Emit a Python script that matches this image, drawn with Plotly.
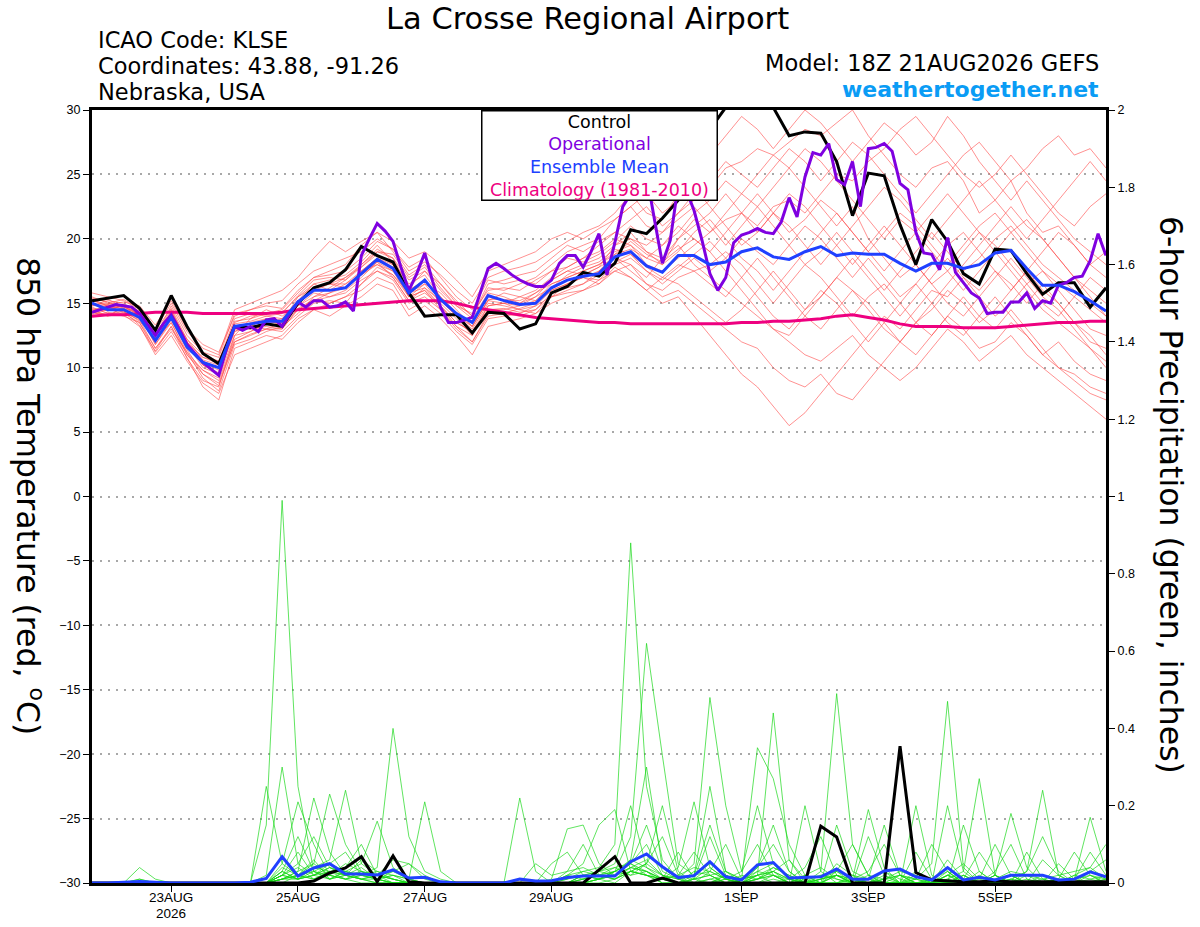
"""
GEFS plume for La Crosse Regional Airport: 850 hPa temperature
ensemble (red) with 6-hour precipitation (green) on a second axis.
"""

import pandas as pd
import plotly.graph_objects as go

START = "2026-08-21 18:00"

# control run, 6-hourly (deg C)
control_temp = [
    15.2, 15.4, 15.6, 14.6, 12.9, 15.6, 13.2, 11.1, 10.3, 13.2, 13.1, 13.4, 13.2,
    15.0, 16.2, 16.6, 17.6, 19.4, 18.7, 18.2, 15.8, 14.0, 14.1, 14.1, 12.7, 14.3,
    14.2, 13.0, 13.4, 15.8, 16.3, 17.4, 17.1, 18.1, 20.7, 20.4, 21.6, 23.0, 26.0,
    28.5, 30.2, 31.0, 31.0, 30.2, 28.0, 28.3, 28.2, 26.0, 21.8, 25.1, 24.9, 21.1,
    18.0, 21.5, 19.8, 17.3, 16.5, 19.2, 19.1, 17.3, 15.7, 16.6, 16.6, 14.7, 16.2,
]

# operational run, 3-hourly (deg C)
operational_temp = [
    14.3, 14.5, 14.7, 14.9, 14.8, 14.7, 14.2, 13.3, 12.5, 13.4, 14.1, 13.0, 11.8,
    11.1, 10.4, 9.9, 9.4, 11.5, 13.2, 12.9, 13.2, 12.8, 13.7, 13.8, 13.2, 14.2,
    15.1, 14.7, 15.2, 15.2, 14.7, 14.8, 15.1, 14.4, 18.7, 20.0, 21.2, 20.6, 19.8,
    17.8, 16.0, 17.3, 18.9, 16.7, 14.7, 13.5, 13.5, 13.7, 13.9, 15.8, 17.7, 18.1,
    17.7, 17.2, 16.8, 16.5, 16.3, 16.3, 16.8, 18.1, 18.7, 18.7, 17.8, 19.0, 20.4,
    17.2, 19.7, 22.5, 23.5, 24.0, 25.0, 21.5, 18.1, 19.9, 24.2, 23.8, 22.2, 19.9,
    17.3, 16.0, 17.0, 19.7, 20.3, 20.5, 20.8, 20.5, 20.4, 21.3, 23.2, 21.7, 24.8,
    26.7, 26.5, 27.4, 24.6, 24.2, 26.0, 22.5, 27.0, 27.1, 27.4, 26.8, 24.3, 23.8,
    20.5, 18.9, 18.8, 17.6, 20.1, 17.4, 16.6, 15.8, 15.4, 14.2, 14.3, 14.3, 15.1,
    15.1, 15.8, 14.6, 15.2, 15.0, 16.4, 16.6, 17.0, 17.1, 18.3, 20.4, 18.7,
]

mean_temp = [
    15.0, 14.5, 14.5, 13.9, 12.1, 13.9, 11.6, 10.4, 10.0, 13.2, 13.4, 13.6, 13.6,
    15.1, 16.0, 16.0, 16.2, 17.3, 18.4, 17.7, 15.8, 16.8, 15.3, 14.2, 13.5, 15.6,
    15.2, 14.9, 15.0, 16.2, 16.8, 17.1, 17.3, 18.6, 19.0, 17.9, 17.4, 18.7, 18.7,
    18.0, 18.2, 19.0, 19.3, 18.6, 18.4, 19.0, 19.4, 18.7, 18.9, 18.8, 18.8, 18.1,
    17.5, 18.1, 18.1, 17.7, 18.0, 18.9, 19.1, 17.7, 16.4, 16.4, 15.9, 15.2, 14.4,
]

climo_temp = [
    14.0, 14.1, 14.1, 14.2, 14.3, 14.3, 14.3, 14.2, 14.2, 14.2, 14.2, 14.2, 14.3,
    14.5, 14.6, 14.7, 14.8, 14.9, 15.0, 15.1, 15.2, 15.2, 15.2, 15.0, 14.7, 14.5,
    14.3, 14.1, 13.9, 13.8, 13.7, 13.6, 13.5, 13.5, 13.4, 13.4, 13.4, 13.4, 13.4,
    13.4, 13.4, 13.5, 13.5, 13.6, 13.6, 13.7, 13.8, 14.0, 14.1, 13.9, 13.7, 13.4,
    13.2, 13.2, 13.2, 13.1, 13.1, 13.1, 13.2, 13.3, 13.4, 13.5, 13.5, 13.6, 13.6,
]

# ensemble members, 6-hourly (deg C)
temp_members = [
    [14.8, 15.2, 15.0, 14.2, 12.5, 14.5, 12.0, 10.8, 10.5, 13.5, 14.0, 14.2, 14.5,
     15.8, 17.0, 17.5, 18.0, 19.5, 20.5, 19.0, 17.2, 18.0, 16.5, 15.0, 14.0, 16.2,
     16.0, 16.5, 17.0, 18.0, 19.0, 19.5, 20.0, 21.5, 22.5, 21.0, 20.5, 22.0, 23.5,
     24.0, 25.5, 26.0, 27.0, 26.5, 27.5, 28.5, 28.0, 29.0, 30.0, 28.0, 26.5, 25.0,
     24.0, 25.5, 26.0, 24.5, 22.0, 23.0, 24.5, 22.0, 20.5, 21.0, 19.5, 18.0, 17.0],
    [14.5, 14.0, 14.2, 13.5, 11.5, 13.2, 11.0, 9.5, 8.8, 12.0, 12.5, 13.0, 12.8,
     14.0, 15.0, 15.2, 15.0, 16.5, 17.5, 16.8, 15.0, 15.5, 14.5, 13.0, 12.0, 14.0,
     14.2, 14.0, 14.5, 15.5, 15.8, 16.0, 16.5, 17.5, 17.0, 16.0, 15.0, 15.5, 14.0,
     12.5, 11.0, 9.5, 8.5, 7.0, 5.5, 6.5, 8.0, 9.5, 11.0, 12.5, 14.0, 13.0,
     14.5, 16.0, 15.5, 17.0, 16.0, 17.5, 16.5, 15.0, 16.5, 15.0, 13.5, 12.0, 11.5],
    [15.3, 14.8, 14.6, 14.2, 12.0, 14.0, 11.8, 10.2, 9.5, 13.0, 13.2, 13.8, 13.5,
     15.5, 16.5, 16.0, 16.8, 18.0, 19.2, 18.5, 16.2, 17.5, 16.0, 14.8, 13.8, 15.8,
     15.5, 15.0, 15.8, 16.8, 17.5, 18.0, 18.5, 19.5, 20.5, 19.0, 18.0, 20.0, 21.5,
     20.5, 22.0, 23.5, 22.5, 24.0, 25.5, 24.0, 22.5, 21.0, 22.5, 20.0, 18.5, 17.0,
     18.0, 16.5, 15.0, 14.0, 15.5, 17.0, 18.5, 17.0, 15.5, 14.5, 13.0, 11.5, 10.5],
    [14.2, 14.6, 14.8, 13.8, 12.2, 13.5, 11.2, 9.8, 9.2, 12.5, 13.8, 14.5, 14.0,
     14.8, 15.5, 16.2, 17.0, 17.8, 18.8, 18.0, 15.5, 16.0, 14.8, 13.5, 12.8, 14.8,
     15.0, 15.5, 16.0, 17.0, 17.8, 18.5, 19.0, 20.0, 19.5, 18.5, 19.5, 21.0, 20.0,
     19.0, 17.5, 16.0, 14.5, 13.0, 12.5, 14.0, 15.5, 17.0, 16.0, 14.5, 13.0, 12.0,
     13.5, 15.0, 16.5, 18.0, 19.5, 21.0, 22.5, 21.0, 20.0, 18.5, 17.0, 15.5, 14.0],
    [15.5, 15.0, 14.8, 14.0, 12.8, 14.2, 12.2, 11.0, 10.5, 13.8, 14.2, 14.0, 13.8,
     15.0, 16.2, 16.5, 16.5, 17.5, 18.0, 17.2, 15.8, 16.5, 15.8, 14.5, 13.2, 15.2,
     15.8, 15.5, 15.2, 16.5, 17.0, 17.5, 18.0, 19.0, 19.5, 18.0, 17.5, 18.5, 19.5,
     20.5, 21.5, 22.0, 21.0, 22.5, 23.0, 22.0, 23.5, 25.0, 24.5, 26.0, 27.0, 28.5,
     29.5, 28.0, 26.5, 25.0, 24.0, 25.0, 26.5, 25.0, 23.5, 22.0, 21.0, 22.5, 23.5],
    [14.0, 14.3, 14.0, 13.5, 11.2, 12.8, 10.8, 8.5, 7.5, 11.5, 12.0, 12.5, 12.2,
     13.5, 14.5, 14.0, 14.8, 15.5, 16.5, 16.0, 14.0, 14.8, 13.8, 12.5, 11.0, 13.2,
     13.5, 13.8, 14.2, 15.0, 15.5, 16.0, 16.8, 17.5, 18.0, 16.5, 15.5, 16.0, 15.0,
     14.0, 13.0, 12.0, 11.5, 10.0, 9.0, 8.5, 9.5, 8.0, 7.5, 9.0, 10.5, 12.0,
     13.5, 12.5, 14.0, 15.5, 14.0, 13.0, 14.5, 13.0, 11.5, 10.0, 9.0, 8.0, 7.5],
    [15.0, 14.7, 14.4, 13.6, 12.4, 14.8, 12.5, 11.2, 10.8, 14.2, 14.5, 14.8, 14.6,
     16.0, 17.0, 17.2, 17.5, 18.5, 19.8, 19.2, 17.8, 18.5, 17.0, 15.5, 14.5, 16.8,
     16.5, 16.8, 16.5, 17.5, 18.5, 18.2, 18.8, 19.8, 21.0, 20.0, 19.5, 20.5, 22.0,
     23.0, 24.5, 23.5, 25.0, 26.5, 25.5, 27.0, 26.0, 24.5, 23.0, 21.5, 20.0, 21.5,
     20.5, 22.0, 23.5, 22.0, 20.5, 19.0, 20.5, 21.5, 20.0, 18.5, 17.0, 16.0, 15.0],
    [14.6, 14.4, 14.9, 14.4, 12.6, 13.8, 11.5, 10.5, 10.0, 13.0, 13.0, 13.2, 13.0,
     14.5, 15.2, 15.5, 15.8, 16.8, 17.5, 17.0, 15.2, 16.2, 15.2, 14.0, 13.0, 15.0,
     14.8, 14.5, 14.8, 16.0, 16.5, 17.0, 16.8, 18.0, 18.5, 17.5, 16.5, 17.5, 18.5,
     17.5, 18.5, 20.0, 19.0, 18.0, 19.5, 21.0, 20.0, 18.5, 17.0, 18.5, 17.0, 15.5,
     16.5, 18.0, 19.5, 20.5, 19.0, 17.5, 16.0, 17.5, 19.0, 20.5, 19.5, 18.0, 19.0],
    [14.4, 14.9, 14.5, 14.0, 11.8, 13.5, 11.0, 9.8, 9.0, 12.2, 12.8, 13.5, 13.8,
     15.2, 16.5, 16.8, 17.2, 18.2, 19.5, 18.2, 16.5, 17.2, 15.5, 14.2, 13.5, 15.5,
     15.2, 15.0, 15.5, 16.2, 17.2, 17.8, 18.2, 19.2, 18.8, 17.8, 17.0, 18.0, 17.5,
     16.5, 15.5, 17.0, 18.5, 17.0, 15.5, 14.0, 13.0, 14.5, 16.0, 15.0, 13.5, 12.0,
     11.0, 12.5, 14.0, 13.0, 11.5, 12.0, 13.5, 12.5, 11.0, 10.0, 9.5, 8.5, 8.0],
    [15.8, 15.5, 15.2, 14.5, 13.0, 15.0, 12.8, 11.5, 11.0, 14.5, 15.0, 15.5, 16.0,
     17.0, 18.5, 19.8, 19.0, 19.8, 20.5, 19.8, 18.5, 19.0, 18.0, 16.8, 15.5, 17.5,
     18.0, 18.5, 19.0, 20.0, 20.5, 20.0, 20.8, 21.5, 22.5, 23.5, 22.0, 23.0, 24.0,
     22.5, 21.0, 19.5, 20.5, 22.0, 21.0, 19.5, 18.0, 19.5, 21.0, 22.5, 24.0, 23.0,
     21.5, 20.0, 21.5, 23.0, 24.5, 23.0, 21.5, 20.0, 21.5, 23.0, 24.5, 26.0, 24.5],
    [14.3, 14.1, 14.3, 13.7, 11.5, 13.0, 11.2, 9.2, 8.2, 11.8, 12.2, 12.8, 13.2,
     14.2, 15.5, 15.8, 16.5, 17.2, 18.0, 17.5, 15.5, 16.5, 15.0, 13.8, 12.5, 14.5,
     14.5, 14.8, 15.2, 16.2, 16.8, 17.0, 17.5, 18.8, 19.2, 18.5, 18.0, 19.0, 20.5,
     21.5, 20.0, 18.5, 17.5, 16.0, 17.5, 19.0, 20.5, 22.0, 20.5, 19.0, 17.5, 19.0,
     20.5, 19.0, 17.5, 16.0, 17.5, 19.0, 17.5, 16.0, 14.5, 13.5, 12.5, 11.5, 10.0],
    [15.1, 15.3, 14.7, 14.3, 12.9, 14.6, 12.2, 10.6, 10.2, 13.6, 13.8, 14.2, 14.3,
     15.5, 16.2, 16.5, 17.0, 18.0, 19.0, 18.8, 17.0, 17.8, 16.2, 14.8, 14.2, 16.0,
     16.2, 16.0, 16.8, 17.5, 17.8, 18.5, 19.5, 20.5, 21.5, 22.5, 21.0, 22.0, 23.0,
     24.5, 26.0, 25.0, 24.0, 25.5, 27.0, 26.0, 24.5, 26.0, 27.5, 26.5, 25.0, 23.5,
     22.0, 23.5, 25.0, 26.5, 27.5, 26.0, 24.5, 25.5, 27.0, 28.0, 26.5, 27.0, 25.5],
    [14.7, 14.2, 14.4, 13.3, 11.0, 12.5, 10.5, 8.8, 8.0, 11.0, 11.5, 12.0, 12.5,
     13.8, 14.5, 15.0, 15.5, 16.0, 17.0, 16.5, 14.5, 15.2, 14.2, 12.8, 11.8, 13.8,
     14.0, 14.2, 14.8, 15.5, 16.0, 16.5, 17.5, 18.5, 18.0, 17.0, 18.5, 19.5, 18.0,
     17.0, 16.0, 15.0, 14.0, 13.0, 12.0, 11.0, 10.5, 11.5, 12.5, 11.0, 10.0, 9.0,
     10.0, 11.5, 13.0, 12.0, 10.5, 11.5, 12.5, 11.0, 10.0, 9.0, 8.0, 7.0, 6.0],
    [14.9, 15.0, 15.3, 14.6, 12.3, 14.3, 12.0, 10.4, 9.8, 13.4, 13.6, 14.0, 14.2,
     15.6, 16.8, 17.0, 16.8, 17.8, 19.0, 18.5, 16.8, 17.5, 16.5, 15.2, 14.0, 16.5,
     16.8, 17.2, 17.5, 18.5, 19.5, 19.0, 19.8, 20.5, 20.0, 19.5, 20.5, 21.5, 22.5,
     21.0, 19.5, 21.0, 22.5, 21.0, 19.5, 18.0, 19.0, 20.5, 19.0, 17.5, 16.0, 17.5,
     19.0, 20.5, 19.0, 17.5, 18.5, 20.0, 21.0, 19.5, 18.0, 17.0, 16.0, 15.0, 14.0],
    [14.1, 14.5, 14.9, 14.1, 12.7, 14.0, 11.8, 10.0, 9.5, 12.8, 13.2, 13.0, 13.0,
     14.6, 15.3, 15.0, 15.5, 16.5, 17.8, 17.2, 15.5, 16.0, 14.5, 13.2, 12.5, 14.8,
     15.0, 14.5, 14.2, 15.5, 16.5, 17.0, 16.5, 17.8, 17.0, 16.0, 17.0, 16.5, 15.5,
     14.5, 13.5, 14.5, 16.0, 17.5, 16.0, 14.5, 15.5, 17.0, 18.5, 17.0, 15.5, 14.0,
     15.5, 17.0, 18.5, 17.0, 15.5, 14.0, 15.0, 16.5, 17.5, 16.0, 14.5, 13.0, 12.5],
    [15.4, 15.1, 14.6, 13.9, 12.0, 14.4, 11.9, 10.8, 10.3, 13.2, 13.4, 13.6, 13.4,
     15.0, 16.0, 16.0, 16.2, 17.2, 18.2, 17.5, 16.0, 16.8, 15.3, 14.0, 13.2, 15.3,
     15.3, 15.2, 15.8, 16.5, 17.0, 17.5, 18.0, 18.8, 19.8, 18.8, 18.2, 19.2, 20.0,
     19.0, 20.5, 22.0, 23.5, 22.0, 20.5, 21.5, 23.0, 22.0, 20.5, 19.0, 20.5, 22.0,
     21.0, 19.5, 18.0, 19.5, 21.0, 22.0, 20.5, 19.0, 17.5, 16.5, 15.5, 14.5, 13.5],
    [14.5, 14.6, 14.1, 13.2, 11.3, 13.2, 10.7, 9.0, 8.5, 12.5, 12.8, 13.4, 13.6,
     14.8, 15.8, 15.5, 16.0, 17.0, 18.2, 17.0, 15.2, 15.8, 14.8, 13.5, 12.8, 14.5,
     14.6, 14.3, 14.5, 15.8, 16.2, 16.5, 17.2, 18.2, 18.8, 17.5, 16.8, 17.8, 18.8,
     19.8, 18.5, 17.0, 15.5, 14.0, 13.0, 14.5, 16.0, 15.0, 13.5, 12.0, 13.5, 15.0,
     16.5, 15.0, 13.5, 12.5, 14.0, 15.5, 14.0, 12.5, 11.0, 12.0, 10.5, 9.5, 9.0],
    [15.2, 14.8, 14.3, 13.8, 12.5, 14.2, 12.0, 10.2, 9.6, 12.8, 13.5, 13.8, 13.2,
     15.2, 16.0, 16.5, 16.2, 17.5, 18.5, 17.8, 16.0, 16.8, 15.5, 14.2, 13.2, 15.2,
     15.0, 14.8, 15.5, 16.8, 17.5, 17.2, 17.8, 19.5, 20.0, 19.0, 18.5, 20.0, 21.0,
     22.0, 23.5, 22.0, 20.5, 22.0, 23.5, 22.5, 21.0, 19.5, 18.0, 19.5, 21.0, 19.5,
     18.0, 16.5, 17.5, 19.0, 20.5, 19.5, 18.0, 16.5, 15.0, 14.0, 15.5, 17.0, 16.0],
    [14.3, 14.0, 14.7, 14.2, 11.8, 13.7, 11.4, 9.5, 8.6, 12.0, 12.6, 13.0, 13.5,
     14.5, 15.2, 15.8, 16.2, 17.5, 18.5, 18.0, 15.8, 16.2, 14.8, 13.2, 12.0, 14.2,
     14.2, 14.6, 15.0, 16.0, 16.5, 17.2, 17.8, 18.5, 17.5, 16.5, 16.0, 17.0, 17.5,
     18.0, 19.0, 18.0, 16.5, 15.0, 16.5, 18.0, 17.0, 15.5, 14.0, 15.5, 16.5, 15.0,
     13.5, 14.5, 16.0, 15.0, 13.5, 14.5, 16.0, 17.5, 16.0, 15.0, 13.5, 12.5, 11.0],
    [14.8, 14.9, 15.1, 14.8, 13.3, 15.2, 13.0, 11.8, 11.2, 14.0, 14.5, 15.0, 15.2,
     16.5, 17.5, 18.0, 18.5, 19.0, 20.0, 19.2, 17.5, 18.2, 17.2, 16.0, 15.0, 17.0,
     17.5, 17.8, 18.2, 19.0, 19.8, 20.5, 21.0, 22.0, 23.5, 22.0, 21.5, 23.5, 25.0,
     26.5, 28.0, 29.5, 28.5, 27.0, 28.5, 30.0, 29.0, 27.5, 26.0, 27.5, 29.0, 28.0,
     26.5, 27.5, 29.5, 28.0, 26.0, 24.5, 23.0, 24.5, 23.0, 21.5, 20.0, 19.0, 18.0],
]

# 6-hour precipitation (inches)
control_precip = [
    0, 0, 0, 0, 0, 0, 0, 0, 0, 0, 0, 0, 0,
    0, 0.005, 0.026, 0.039, 0.068, 0.003, 0.070, 0.003, 0, 0, 0, 0, 0,
    0, 0, 0, 0, 0, 0, 0.034, 0.068, 0, 0, 0.013, 0, 0,
    0, 0, 0, 0, 0, 0, 0, 0.147, 0.119, 0, 0, 0, 0.354,
    0.027, 0.008, 0.005, 0.003, 0.003, 0.005, 0.003, 0.003, 0.003, 0.003, 0.003, 0.003, 0.003,
]

mean_precip = [
    0, 0, 0.002, 0.004, 0.002, 0, 0, 0, 0, 0, 0.002, 0.012, 0.068,
    0.018, 0.039, 0.050, 0.023, 0.023, 0.021, 0.034, 0.013, 0.015, 0.003, 0, 0, 0,
    0, 0.010, 0.005, 0.006, 0.014, 0.018, 0.018, 0.018, 0.055, 0.075, 0.042, 0.014, 0.019,
    0.055, 0.016, 0.008, 0.047, 0.053, 0.013, 0.015, 0.016, 0.036, 0.010, 0.010, 0.031, 0.036,
    0.016, 0.008, 0.040, 0.008, 0.015, 0.008, 0.020, 0.020, 0.020, 0.008, 0.010, 0.029, 0.016,
]

precip_members = [
    [0, 0, 0, 0, 0, 0, 0, 0, 0, 0, 0, 0.15, 0.99,
     0.25, 0.03, 0.02, 0.01, 0, 0, 0, 0, 0, 0, 0, 0, 0,
     0, 0, 0, 0, 0, 0.02, 0.03, 0.04, 0.05, 0.10, 0.02, 0, 0,
     0.03, 0.01, 0, 0, 0, 0, 0, 0, 0.05, 0.02, 0, 0, 0,
     0, 0, 0, 0, 0.02, 0, 0, 0, 0, 0, 0.01, 0.02, 0],
    [0, 0, 0, 0, 0, 0, 0, 0, 0, 0, 0, 0.02, 0.30,
     0.05, 0.02, 0.03, 0.01, 0.02, 0.04, 0.40, 0.12, 0.03, 0.01, 0, 0, 0,
     0, 0, 0, 0, 0, 0, 0.01, 0.02, 0.05, 0.03, 0.01, 0, 0.02,
     0.05, 0.02, 0, 0.03, 0.05, 0.01, 0, 0, 0, 0.02, 0.01, 0, 0,
     0, 0, 0.03, 0, 0, 0, 0.02, 0, 0, 0, 0, 0, 0],
    [0, 0, 0, 0, 0, 0, 0, 0, 0, 0, 0, 0, 0.04,
     0.02, 0.06, 0.01, 0.03, 0.01, 0, 0, 0, 0, 0, 0, 0, 0,
     0, 0, 0, 0, 0.02, 0.03, 0.04, 0.10, 0.88, 0.25, 0.06, 0.01, 0,
     0, 0.02, 0, 0.04, 0.10, 0.03, 0, 0, 0, 0, 0, 0.01, 0.03,
     0.02, 0, 0.20, 0.03, 0, 0, 0, 0, 0, 0.01, 0, 0, 0],
    [0, 0, 0, 0, 0, 0, 0, 0, 0, 0, 0, 0, 0.02,
     0.04, 0.01, 0.02, 0.05, 0.03, 0.01, 0, 0, 0, 0, 0, 0, 0,
     0, 0, 0, 0, 0, 0.01, 0.02, 0.03, 0.12, 0.62, 0.33, 0.05, 0.02,
     0.15, 0.03, 0, 0, 0.02, 0.01, 0, 0.03, 0.49, 0.10, 0.02, 0, 0,
     0, 0, 0.01, 0, 0.03, 0, 0, 0, 0, 0, 0, 0, 0],
    [0, 0, 0, 0, 0, 0, 0, 0, 0, 0, 0, 0, 0.01,
     0.03, 0.22, 0.08, 0.02, 0.01, 0, 0, 0, 0, 0, 0, 0, 0,
     0, 0, 0, 0, 0, 0, 0.01, 0.02, 0.04, 0.06, 0.02, 0.01, 0.05,
     0.48, 0.20, 0.03, 0.10, 0.02, 0, 0, 0.01, 0.02, 0, 0, 0, 0,
     0.01, 0.05, 0.47, 0.04, 0, 0, 0.01, 0, 0, 0, 0.02, 0.01, 0],
    [0, 0, 0, 0, 0, 0, 0, 0, 0, 0, 0, 0, 0.03,
     0.01, 0.04, 0.06, 0.24, 0.05, 0.02, 0.01, 0, 0, 0, 0, 0, 0,
     0, 0, 0, 0, 0, 0, 0, 0.01, 0.03, 0.02, 0.01, 0.04, 0.21,
     0.04, 0.01, 0, 0.02, 0.44, 0.06, 0, 0, 0.02, 0, 0, 0.01, 0.02,
     0, 0, 0.01, 0.03, 0.27, 0.02, 0, 0, 0, 0, 0, 0, 0.01],
    [0, 0, 0, 0, 0, 0, 0, 0, 0, 0, 0, 0, 0,
     0.02, 0.03, 0.01, 0.02, 0.06, 0.03, 0.02, 0.01, 0.21, 0.03, 0, 0, 0,
     0, 0, 0, 0, 0, 0, 0.01, 0, 0.03, 0.02, 0, 0, 0.01,
     0.02, 0.03, 0.01, 0.35, 0.27, 0.10, 0.02, 0, 0, 0, 0, 0, 0,
     0, 0, 0, 0, 0, 0.02, 0.18, 0.04, 0, 0, 0, 0, 0],
    [0, 0, 0, 0, 0, 0, 0, 0, 0, 0, 0, 0, 0.01,
     0.02, 0.05, 0.23, 0.10, 0.03, 0.01, 0, 0, 0, 0, 0, 0, 0,
     0, 0.22, 0.03, 0, 0, 0.01, 0.02, 0.01, 0.04, 0.03, 0, 0, 0,
     0, 0.02, 0, 0.01, 0.03, 0, 0.02, 0.04, 0.01, 0, 0, 0, 0,
     0.20, 0.02, 0, 0, 0, 0, 0.01, 0.03, 0.24, 0.02, 0, 0, 0],
    [0, 0, 0, 0, 0, 0, 0, 0, 0, 0, 0, 0, 0.05,
     0.21, 0.10, 0.02, 0.01, 0.02, 0.01, 0, 0, 0, 0, 0, 0, 0,
     0, 0, 0, 0.01, 0.14, 0.15, 0.05, 0.02, 0.06, 0.04, 0.01, 0, 0,
     0.01, 0, 0, 0.02, 0, 0.01, 0, 0, 0.03, 0.01, 0.19, 0.04, 0,
     0, 0, 0.02, 0, 0, 0, 0, 0, 0, 0, 0.01, 0.17, 0.03],
    [0, 0, 0, 0, 0, 0, 0, 0, 0, 0, 0, 0, 0.02,
     0.01, 0.02, 0.04, 0.03, 0.05, 0.16, 0.04, 0.01, 0, 0, 0, 0, 0,
     0, 0, 0, 0, 0.02, 0.05, 0.15, 0.19, 0.03, 0.02, 0.01, 0, 0.03,
     0.02, 0, 0, 0.01, 0.04, 0.02, 0, 0, 0.15, 0.03, 0.01, 0.15, 0.02,
     0, 0, 0, 0.02, 0, 0, 0, 0, 0.01, 0.02, 0.03, 0.04, 0.10],
    [0, 0, 0, 0, 0, 0, 0, 0, 0, 0, 0, 0.25, 0.05,
     0.02, 0.01, 0.03, 0.02, 0.01, 0.02, 0, 0, 0, 0, 0, 0, 0,
     0, 0, 0, 0, 0, 0, 0.01, 0.03, 0.02, 0.05, 0.20, 0.03, 0,
     0, 0.01, 0, 0, 0.01, 0, 0.02, 0, 0, 0.01, 0, 0, 0,
     0.02, 0, 0, 0.15, 0.03, 0, 0, 0.08, 0.01, 0, 0, 0, 0],
    [0, 0, 0, 0, 0, 0, 0, 0, 0, 0, 0, 0, 0.01,
     0.03, 0.05, 0.02, 0.01, 0.03, 0.02, 0.01, 0, 0, 0, 0, 0, 0,
     0, 0, 0, 0.05, 0.08, 0.02, 0.01, 0.03, 0.05, 0.02, 0.01, 0.02, 0.04,
     0.03, 0.10, 0.01, 0.02, 0.03, 0.01, 0.04, 0.12, 0.02, 0, 0.01, 0.03, 0,
     0, 0.01, 0.03, 0, 0.01, 0.10, 0.02, 0, 0, 0.01, 0, 0, 0.02],
    [0, 0, 0, 0.04, 0.01, 0, 0, 0, 0, 0, 0, 0, 0.03,
     0.12, 0.03, 0.01, 0.02, 0.04, 0.01, 0.02, 0, 0, 0, 0, 0, 0,
     0, 0, 0, 0, 0, 0.02, 0.01, 0.02, 0.04, 0.03, 0.01, 0.02, 0.08,
     0.02, 0, 0.01, 0.03, 0.02, 0, 0.20, 0.03, 0, 0.01, 0, 0.02, 0,
     0, 0, 0, 0.01, 0, 0.02, 0, 0, 0, 0.05, 0.01, 0, 0],
    [0, 0, 0, 0.01, 0, 0, 0, 0, 0, 0, 0, 0, 0.02,
     0.01, 0.03, 0.05, 0.08, 0.02, 0.03, 0.01, 0, 0, 0, 0, 0, 0,
     0, 0, 0, 0, 0.03, 0.10, 0.02, 0.01, 0.03, 0.05, 0.02, 0.01, 0,
     0.01, 0.02, 0.01, 0.04, 0.15, 0.03, 0, 0.02, 0.01, 0, 0.12, 0.02, 0,
     0.01, 0, 0.02, 0, 0, 0.03, 0.10, 0.01, 0, 0, 0.02, 0.04, 0.01],
    [0, 0, 0, 0, 0, 0, 0, 0, 0, 0, 0, 0, 0.01,
     0.02, 0.04, 0.03, 0.02, 0.01, 0.02, 0.03, 0.05, 0.01, 0, 0, 0, 0,
     0, 0, 0, 0, 0.01, 0.02, 0.03, 0.05, 0.20, 0.04, 0.02, 0, 0.01,
     0.12, 0.02, 0, 0.01, 0.02, 0, 0, 0.01, 0.03, 0, 0, 0.01, 0.02,
     0.01, 0.10, 0.03, 0, 0, 0.02, 0, 0.01, 0, 0.01, 0.08, 0.02, 0],
    [0, 0, 0, 0, 0, 0, 0, 0, 0, 0, 0, 0, 0.02,
     0.05, 0.12, 0.04, 0.02, 0.01, 0.01, 0, 0, 0, 0, 0, 0, 0,
     0, 0, 0, 0, 0, 0.01, 0.02, 0.03, 0.06, 0.30, 0.04, 0.01, 0.02,
     0.03, 0.01, 0, 0.02, 0.03, 0.06, 0.01, 0, 0.02, 0.01, 0, 0.03, 0.01,
     0, 0, 0.02, 0.01, 0.08, 0.02, 0, 0.03, 0.12, 0.03, 0, 0.01, 0.02],
    [0, 0, 0, 0.01, 0, 0, 0, 0, 0, 0, 0, 0, 0.01,
     0.02, 0.01, 0.03, 0.04, 0.10, 0.02, 0.01, 0, 0, 0, 0, 0, 0,
     0, 0, 0, 0, 0.01, 0.03, 0.02, 0.04, 0.02, 0.03, 0.01, 0.08, 0.01,
     0, 0.01, 0, 0.01, 0.02, 0, 0.01, 0.02, 0.03, 0.10, 0.02, 0, 0,
     0.03, 0, 0.06, 0.01, 0, 0, 0.01, 0, 0.02, 0, 0, 0, 0.01],
    [0, 0, 0, 0, 0, 0, 0, 0, 0, 0, 0, 0, 0.01,
     0.01, 0.02, 0.05, 0.03, 0.02, 0.01, 0.02, 0.01, 0, 0, 0, 0, 0,
     0, 0, 0.05, 0.02, 0.03, 0.04, 0.02, 0.01, 0.03, 0.02, 0, 0, 0.01,
     0.02, 0, 0.02, 0.01, 0.03, 0.01, 0, 0, 0.02, 0.01, 0.03, 0.10, 0.02,
     0, 0.01, 0, 0.02, 0, 0.01, 0.03, 0.02, 0, 0, 0.01, 0.08, 0.02],
    [0, 0, 0, 0, 0, 0, 0, 0, 0, 0, 0, 0, 0.02,
     0.08, 0.02, 0.01, 0.03, 0.02, 0.01, 0.03, 0.01, 0, 0, 0, 0, 0,
     0, 0, 0, 0, 0.02, 0.01, 0.03, 0.02, 0.03, 0.05, 0.12, 0.02, 0.01,
     0.04, 0.01, 0.03, 0.20, 0.05, 0.01, 0, 0.01, 0.02, 0, 0.02, 0.01, 0,
     0.08, 0.01, 0, 0.02, 0, 0.01, 0, 0.02, 0.01, 0, 0, 0.03, 0.06],
    [0, 0, 0, 0, 0, 0, 0, 0, 0, 0, 0, 0, 0.03,
     0.01, 0.02, 0.04, 0.02, 0.03, 0.02, 0.06, 0.05, 0.02, 0, 0, 0, 0,
     0, 0, 0, 0, 0, 0.02, 0.01, 0.03, 0.05, 0.15, 0.03, 0.01, 0.02,
     0.25, 0.03, 0.01, 0.02, 0.04, 0.02, 0, 0.01, 0.02, 0, 0.01, 0, 0.02,
     0.01, 0, 0.02, 0.05, 0.01, 0, 0.02, 0, 0.06, 0.02, 0, 0.02, 0.01],
]

tick_dates = ["2026-08-23", "2026-08-25", "2026-08-27", "2026-08-29",
              "2026-09-01", "2026-09-03", "2026-09-05"]
tick_labels = ["23AUG", "25AUG", "27AUG", "29AUG", "1SEP", "3SEP", "5SEP"]
year_label = "2026"

FONT = "DejaVu Sans, Verdana, sans-serif"
TICK_FONT = "Liberation Sans, Arial, Helvetica, sans-serif"
PURPLE = "#7f00e0"
BLUE = "#2040ff"
PINK = "#ee0080"


def line(x, y, color, width, yaxis="y"):
    return go.Scatter(
        x=x, y=y, mode="lines", yaxis=yaxis,
        line=dict(color=color, width=width),
        hoverinfo="skip", showlegend=False,
    )


def main():
    t6 = pd.date_range(START, periods=len(control_temp), freq="6h")
    t3 = pd.date_range(START, periods=len(operational_temp), freq="3h")

    fig = go.Figure()
    for member in temp_members:
        fig.add_trace(line(t6, member, "rgba(255,70,70,0.75)", 0.8))
    for member in precip_members:
        fig.add_trace(line(t6, member, "rgba(20,215,20,0.85)", 0.8, "y2"))
    fig.add_trace(line(t6, climo_temp, PINK, 3))
    fig.add_trace(line(t6, control_temp, "black", 3))
    fig.add_trace(line(t3, operational_temp, PURPLE, 3))
    fig.add_trace(line(t6, mean_temp, BLUE, 3))
    fig.add_trace(line(t6, control_precip, "black", 3, "y2"))
    fig.add_trace(line(t6, mean_precip, BLUE, 3, "y2"))

    # pixel -> paper helpers (plot area is 92..1106 x 110..883)
    def px(x):
        return (x - 92) / 1014

    def py(y):
        return (883 - y) / 773

    def text(s, x, y, size, xanchor="left", color="black", **kw):
        fig.add_annotation(
            text=s, x=px(x), y=py(y), xref="paper", yref="paper",
            xanchor=xanchor, yanchor="middle", showarrow=False,
            font=dict(family=FONT, size=size, color=color), **kw,
        )

    text("La Crosse Regional Airport", 587, 19, 30.5, xanchor="center")
    text("ICAO Code: KLSE", 96, 40, 22.5)
    text("Coordinates: 43.88, -91.26", 96, 66, 22.5)
    text("Nebraska, USA", 96, 92, 22.5)
    text("Model: 18Z 21AUG2026 GEFS", 1101, 63, 22.5, xanchor="right")
    text("<b>weathertogether.net</b>", 1101, 89, 22, xanchor="right",
         color="#0a9cf5")
    text("850 hPa Temperature (red, <sup>o</sup>C)", 30, 496, 31.5,
         xanchor="center", textangle=90)
    text("6-hour Precipitation (green, inches)", 1171, 495, 31.5,
         xanchor="center", textangle=90)

    # date labels under the x axis
    for date, label in zip(tick_dates, tick_labels):
        fig.add_annotation(
            text=label, x=date, y=py(897), xref="x", yref="paper",
            yanchor="middle", showarrow=False,
            font=dict(family=TICK_FONT, size=13.5, color="black"),
        )
    fig.add_annotation(
        text=year_label, x=tick_dates[0], y=py(913), xref="x", yref="paper",
        yanchor="middle", showarrow=False,
        font=dict(family=TICK_FONT, size=13.5, color="black"),
    )

    legend = "<br>".join([
        "Control",
        f"<span style='color:{PURPLE}'>Operational</span>",
        f"<span style='color:{BLUE}'>Ensemble Mean</span>",
        f"<span style='color:{PINK}'>Climatology (1981-2010)</span>",
    ])
    fig.add_annotation(
        text=legend, x=px(599), y=1.0, xref="paper", yref="paper",
        xanchor="center", yanchor="top", showarrow=False, align="center",
        width=234,
        font=dict(family=FONT, size=17.5, color="black"),
        bgcolor="white", bordercolor="black", borderwidth=1.5, borderpad=0,
    )

    axis_common = dict(
        showline=True, linecolor="black", linewidth=3,
        ticks="outside", ticklen=6, tickcolor="black",
        tickfont=dict(family=TICK_FONT, size=12.5, color="black"),
        zeroline=False, automargin=False,
    )
    fig.update_layout(
        width=1200,
        height=927,
        margin=dict(l=92, r=94, t=110, b=44),
        paper_bgcolor="white",
        plot_bgcolor="white",
        font=dict(family=FONT),
        xaxis=dict(
            **axis_common,
            type="date",
            range=[t6[0], t6[-1]],
            tickvals=pd.to_datetime(tick_dates),
            showticklabels=False,
            mirror=True,
            showgrid=False,
        ),
        yaxis=dict(
            **axis_common,
            range=[-30, 30],
            dtick=5,
            showgrid=True,
            gridcolor="#a8a8a8",
            griddash="2px,6px",
            gridwidth=1.5,
        ),
        yaxis2=dict(
            **axis_common,
            overlaying="y",
            side="right",
            range=[0, 2],
            dtick=0.2,
            showgrid=False,
        ),
    )
    fig.write_html(
        "out.html",
        config={"displayModeBar": False},
        post_script="document.body.style.margin='0';",
    )


if __name__ == "__main__":
    main()
